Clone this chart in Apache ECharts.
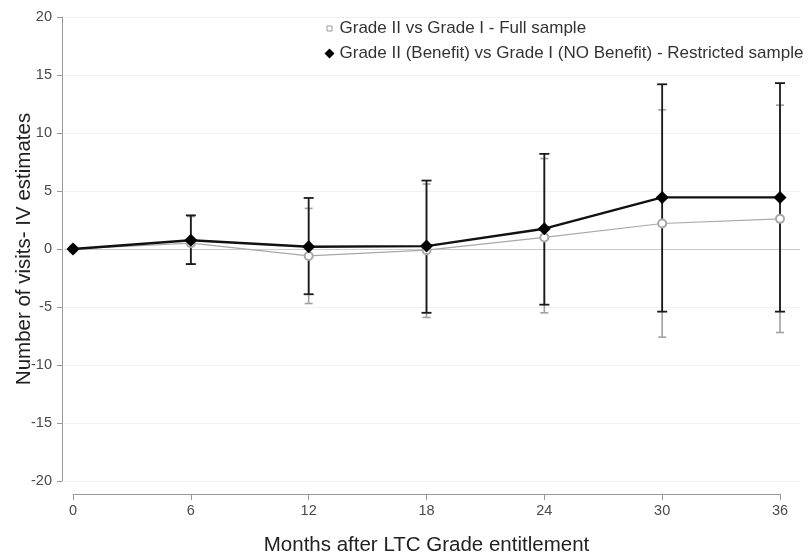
<!DOCTYPE html>
<html>
<head>
<meta charset="utf-8">
<script src="https://cdn.jsdelivr.net/npm/echarts@6/dist/echarts.min.js"></script>
<style>
  html, body { margin: 0; padding: 0; background: #fff; }
  #chart { width: 809px; height: 557px; }
</style>
</head>
<body>
<div id="chart"></div>
<script>
const months = [0, 6, 12, 18, 24, 30, 36];
const yTicks = [-20, -15, -10, -5, 0, 5, 10, 15, 20];

// Grade II vs Grade I - Full sample
const fullEst = [0, 0.5, -0.6, -0.1, 1.0, 2.2, 2.6];
const fullLo = [0, -1.3, -4.7, -5.9, -5.5, -7.6, -7.2];
const fullHi = [0, 2.8, 3.5, 5.6, 7.8, 12.0, 12.4];

// Grade II (Benefit) vs Grade I (NO Benefit) - Restricted sample
const restEst = [0, 0.75, 0.2, 0.25, 1.75, 4.45, 4.45];
const restLo = [0, -1.3, -3.9, -5.5, -4.8, -5.4, -5.4];
const restHi = [0, 2.9, 4.4, 5.9, 8.2, 14.2, 14.3];

const fullName = "Grade II vs Grade I - Full sample";
const restName = "Grade II (Benefit) vs Grade I (NO Benefit) - Restricted sample";

const font = "Liberation Sans, Arial, sans-serif";
const labelColor = "#4a4a4a";

// small hollow square centred in a 10x10 box, for the legend
const smallSquare = "path://M0 0M10 10M2.5 2.5H7.5V7.5H2.5Z";

function errorBars(lo, hi, color, width, capHalf) {
  return {
    type: "custom",
    xAxisIndex: 1,
    yAxisIndex: 1,
    z: 2,
    silent: true,
    data: months.map((m, i) => [m, lo[i], hi[i]]).filter(d => d[1] !== d[2]),
    renderItem: (params, api) => {
      const x = api.value(0);
      const low = api.coord([x, api.value(1)]);
      const high = api.coord([x, api.value(2)]);
      const style = { stroke: color, lineWidth: width };
      return {
        type: "group",
        children: [
          { type: "line", shape: { x1: low[0], y1: low[1], x2: high[0], y2: high[1] }, style },
          { type: "line", shape: { x1: low[0] - capHalf, y1: low[1], x2: low[0] + capHalf, y2: low[1] }, style },
          { type: "line", shape: { x1: high[0] - capHalf, y1: high[1], x2: high[0] + capHalf, y2: high[1] }, style },
        ],
      };
    },
  };
}

const chart = echarts.init(document.getElementById("chart"));

chart.setOption({
  animation: false,
  textStyle: { fontFamily: font },
  legend: {
    orient: "vertical",
    left: 319,
    top: 15,
    itemGap: 8,
    itemWidth: 10,
    itemHeight: 10,
    textStyle: { fontSize: 17, color: "#333", fontFamily: font },
    data: [
      { name: fullName, icon: smallSquare, itemStyle: { color: "#fff", borderColor: "#999", borderWidth: 1 } },
      { name: restName, icon: "diamond", itemStyle: { color: "#000" } },
    ],
  },
  grid: [
    { left: 64, right: 9, top: 17, bottom: 76, outerBoundsMode: "none" },
    { left: 73, right: 29, top: 17, bottom: 76, outerBoundsMode: "none" },
  ],
  xAxis: [
    {
      gridIndex: 0,
      type: "value",
      min: 0,
      max: 1,
      show: false,
    },
    {
      gridIndex: 1,
      type: "value",
      min: months[0],
      max: months[months.length - 1],
      interval: 6,
      offset: 13,
      axisLine: { show: true, onZero: false, lineStyle: { color: "#999", width: 1 } },
      axisTick: { show: true, length: 6, lineStyle: { color: "#999" } },
      axisLabel: { color: labelColor, fontSize: 14.5, margin: 9, fontFamily: font },
      splitLine: { show: false },
      name: "Months after LTC Grade entitlement",
      nameLocation: "middle",
      nameGap: 41,
      nameMoveOverlap: false,
      nameTextStyle: { fontSize: 20.5, color: "#222", fontFamily: font },
    },
  ],
  yAxis: [
    {
      gridIndex: 0,
      type: "value",
      min: yTicks[0],
      max: yTicks[yTicks.length - 1],
      interval: 5,
      offset: 2,
      axisLine: { show: true, onZero: false, lineStyle: { color: "#999", width: 1 } },
      axisTick: { show: true, length: 5, lineStyle: { color: "#999" } },
      axisLabel: { color: labelColor, fontSize: 14.5, margin: 10, fontFamily: font },
      splitLine: {
        show: true,
        lineStyle: {
          color: ["#f1f1f1", "#f1f1f1", "#f1f1f1", "#f1f1f1", "#c9c9c9", "#f1f1f1", "#f1f1f1", "#f1f1f1", "#f1f1f1"],
          width: 1,
        },
      },
      name: "Number of visits- IV estimates",
      nameLocation: "middle",
      nameGap: 27,
      nameMoveOverlap: false,
      nameTextStyle: { fontSize: 20.5, color: "#222", fontFamily: font },
    },
    {
      gridIndex: 1,
      type: "value",
      min: yTicks[0],
      max: yTicks[yTicks.length - 1],
      interval: 5,
      show: false,
    },
  ],
  series: [
    errorBars(fullLo, fullHi, "#a0a0a0", 1.6, 4),
    errorBars(restLo, restHi, "#1a1a1a", 1.8, 5),
    {
      name: fullName,
      type: "line",
      xAxisIndex: 1,
      yAxisIndex: 1,
      z: 3,
      data: months.map((m, i) => [m, fullEst[i]]),
      symbol: "emptyCircle",
      symbolSize: 8,
      lineStyle: { color: "#a8a8a8", width: 1.2 },
      itemStyle: { color: "#a8a8a8", borderColor: "#a0a0a0", borderWidth: 1.5 },
    },
    {
      name: restName,
      type: "line",
      xAxisIndex: 1,
      yAxisIndex: 1,
      z: 4,
      data: months.map((m, i) => [m, restEst[i]]),
      symbol: "diamond",
      symbolSize: 13,
      lineStyle: { color: "#111", width: 2.4 },
      itemStyle: { color: "#000" },
    },
  ],
});
</script>
</body>
</html>
